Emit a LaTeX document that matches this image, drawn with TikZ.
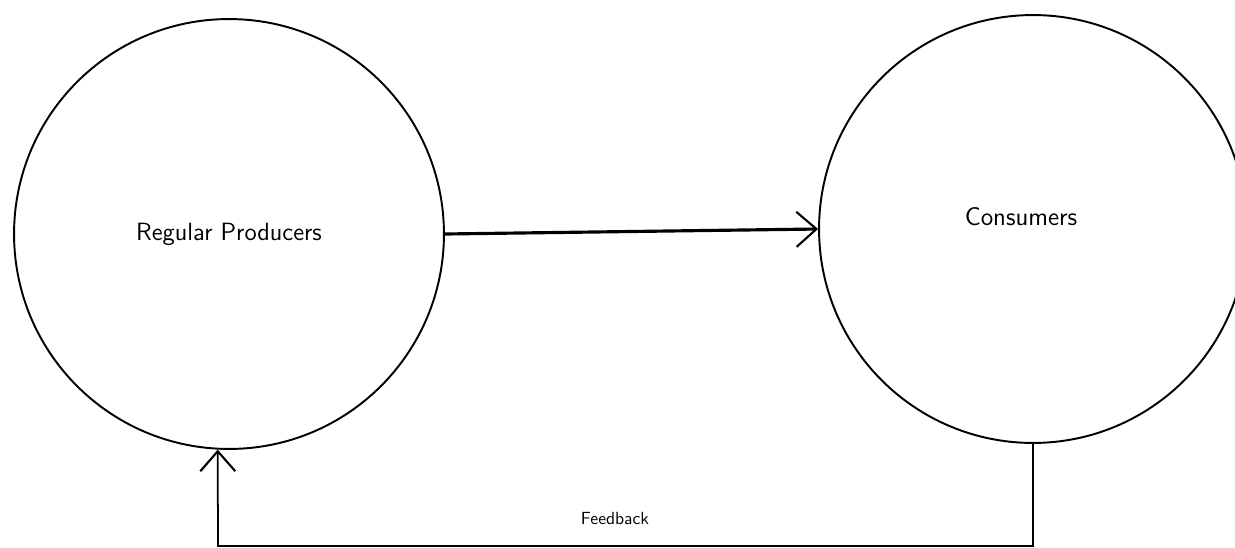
\documentclass[tikz,border=0pt]{standalone}
\usepackage{tikz}
\usetikzlibrary{positioning,arrows.meta}
\tikzset{
  pool/.style={circle, draw=black, line width=1.1pt, minimum size=8.6cm,
               inner sep=0pt, font=\sffamily\fontsize{14.2}{17}\selectfont},
  plabel/.style={font=\sffamily\fontsize{14.5}{17}\selectfont},
  flow/.style={line width=1.8pt, -{Straight Barb[length=4mm,width=7mm,line width=1.2pt]}},
  fback/.style={line width=1pt, -{Straight Barb[length=4mm,width=7mm,line width=1.2pt]}},
  flabel/.style={font=\sffamily\fontsize{10}{12}\selectfont},
}
\begin{document}
\begin{tikzpicture}[x=0.02cm, y=-0.02cm]
  \useasboundingbox (0,0) rectangle (1235,548);
  \node[pool] (prod) at (229,234) {Regular Producers};
  \node[pool, minimum size=8.56cm] (cons) at (1033,229) {};
  \node[plabel] (constext) at (1021,217) {Consumers};
  \coordinate (bendr) at (1033,546);
  \coordinate (bendl) at (218,546);
  \draw[flow] (prod.east) -- (cons.west);
  \draw[fback] (cons.south) -- (bendr) -- (bendl) -- (prod.-93);
  \node[flabel] (fb) at (615,518) {Feedback};
\end{tikzpicture}
\end{document}
